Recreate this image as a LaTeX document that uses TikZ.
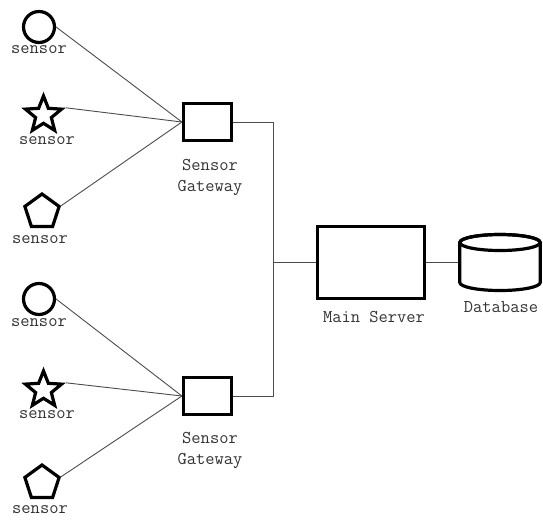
\documentclass[tikz,border=0pt]{standalone}
\usetikzlibrary{shapes.geometric}
\tikzset{
  shp/.style={draw=black, line width=3.2pt, fill=white, inner sep=0pt},
  circsensor/.style={shp, circle, minimum size=31pt},
  starsensor/.style={shp, star, star points=5, star point ratio=2.3, minimum size=38pt},
  pentsensor/.style={shp, regular polygon, regular polygon sides=5, minimum size=36pt},
  gwbox/.style={shp, rectangle, minimum width=48pt, minimum height=37pt},
  srvbox/.style={shp, rectangle, minimum width=107pt, minimum height=72pt},
  lbl/.style={font=\ttfamily\fontsize{18pt}{21pt}\selectfont, text=black!80, inner sep=0pt, align=center},
  wire/.style={draw=black!70, line width=0.9pt},
}
\begin{document}
\begin{tikzpicture}[x=1pt, y=-1pt]
\useasboundingbox (0,0) rectangle (543,519);
% top group
\node[circsensor] (c1) at (39,27) {};
\node[lbl] (lc1) at (39,50) {sensor};
\node[starsensor] (s1) at (43.5,115) {};
\node[lbl] (ls1) at (47,141) {sensor};
\node[pentsensor] (p1) at (42,212) {};
\node[lbl] (lp1) at (40,240) {sensor};
\node[gwbox] (g1) at (207.5,122) {};
\node[lbl] (lg1) at (210,177) {Sensor\\Gateway};
% bottom group
\node[circsensor] (c2) at (39,299) {};
\node[lbl] (lc2) at (39,323) {sensor};
\node[starsensor] (s2) at (43.5,390) {};
\node[lbl] (ls2) at (47,415) {sensor};
\node[pentsensor] (p2) at (42,483) {};
\node[lbl] (lp2) at (40,510) {sensor};
\node[gwbox] (g2) at (207.5,396) {};
\node[lbl] (lg2) at (210,450) {Sensor\\Gateway};
% server and database
\node[srvbox] (srv) at (371,262.5) {};
\node[lbl] (lsrv) at (374,317) {Main Server};
\node[minimum width=84pt, minimum height=59pt, inner sep=0pt] (db) at (500,262.5) {};
\node[lbl] (ldb) at (501,307) {Database};
\draw[line width=3.2pt, fill=white]
  (459.8,242.5) -- (459.8,282.5) arc[start angle=180, end angle=360, x radius=40.2, y radius=-8]
  -- (540.2,242.5) arc[start angle=0, end angle=180, x radius=40.2, y radius=-8] -- cycle;
\draw[line width=3.2pt] (500,242.5) ellipse[x radius=40.2, y radius=8];
% connectors
\coordinate (b1) at (273,122);
\coordinate (b2) at (273,396);
\coordinate (bm) at (273,262.5);
\draw[wire] (c1.east) -- (g1.west);
\draw[wire] (s1.outer point 5) -- (g1.west);
\draw[wire] (p1.corner 5) -- (g1.west);
\draw[wire] (c2.east) -- (g2.west);
\draw[wire] (s2.outer point 5) -- (g2.west);
\draw[wire] (p2.corner 5) -- (g2.west);
\draw[wire] (g1.east) -- (b1) -- (b2) -- (g2.east);
\draw[wire] (bm) -- (srv.west);
\draw[wire] (srv.east) -- (db.west);
\end{tikzpicture}
\end{document}
